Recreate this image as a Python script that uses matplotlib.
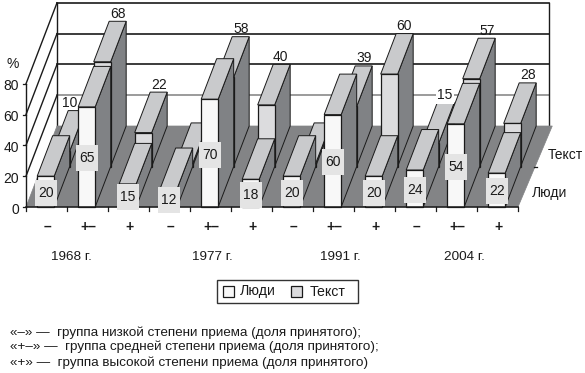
import matplotlib
matplotlib.use("Agg")
import matplotlib.pyplot as plt
from matplotlib.patches import Polygon, Rectangle

plt.rcParams['font.family'] = ['Liberation Sans', 'DejaVu Sans']

# ---- data ----
group_marks = ['–', '+–', '+', '–', '+–', '+', '–', '+–', '+', '–', '+–', '+']
years = ['1968 г.', '1977 г.', '1991 г.', '2004 г.']
series_names = ['Люди', 'Текст']
people = [20, 65, 15, 12, 70, 18, 20, 60, 20, 24, 54, 22]
text_vals = [10, 68, 22, 2, 58, 40, 2, 39, 60, 15, 57, 28]
text_labelled = [True, True, True, False, True, True, False, True, True, True, True, True]
y_ticks = [0, 20, 40, 60, 80]
footnotes = ['«–» —  группа низкой степени приема (доля принятого);',
             '«+–» —  группа средней степени приема (доля принятого);',
             '«+» —  группа высокой степени приема (доля принятого)']

# ---- layout ----
X0, Y0 = 26.0, 207.0      # front-left floor corner, px
CAT_W = 41.0
PX_PER_UNIT = 1.54
DX, DY = 31.0, -81.0      # full-depth offset, px
BAR_W = 17.0
people_label_y = [193, 158, 197, 200, 155, 195, 193, 162, 193, 190, 167, 191]
text_label_dx = [-7, 0, 0, 0, 0, -1, 0, 0, -1, -1, 0, 0]
year_x = [71, 212, 340, 464]

INK = '#1a1a1a'
SIDE = '#808285'
TOP = '#c9cacc'
FLOOR = '#838486'
F_PEOPLE = '#f8f8f8'
F_TEXT = '#dcdcde'
BOX = '#e4e4e4'


def proj(cat, depth, val):
    """Oblique projection of (category position, depth 0..1, value) to pixels."""
    return (X0 + cat * CAT_W + depth * DX, Y0 - val * PX_PER_UNIT + depth * DY)


fig = plt.figure(figsize=(5.85, 3.73), dpi=100)
ax = fig.add_axes([0, 0, 1, 1])
ax.set_xlim(0, 585)
ax.set_ylim(373, 0)
ax.axis('off')
N = len(people)


def poly(pts, fc, ec=INK, lw=0.7, z=2):
    ax.add_patch(Polygon(pts, closed=True, facecolor=fc, edgecolor=ec, linewidth=lw,
                         joinstyle='miter', zorder=z))


# walls
for v in y_ticks[1:]:
    c = '#8a8a8a' if v == 20 else INK
    ax.plot([proj(0, 1, v)[0], proj(N, 1, v)[0]], [proj(0, 1, v)[1]] * 2, color=c, lw=1.2, zorder=1)
    ax.plot([proj(0, 0, v)[0], proj(0, 1, v)[0]], [proj(0, 0, v)[1], proj(0, 1, v)[1]],
            color=INK, lw=1.0, zorder=1)
for cat in (0, N):
    ax.plot([proj(cat, 1, 0)[0], proj(cat, 1, 80)[0]], [proj(cat, 1, 0)[1], proj(cat, 1, 80)[1]],
            color=INK, lw=1.0, zorder=1)
# floor
poly([proj(0, 0, 0), proj(N, 0, 0), proj(N + 0.08, 1, 0), proj(0, 1, 0)], FLOOR, ec=FLOOR, lw=0.5, z=1.5)
ax.plot([proj(0, 0, 0)[0], proj(0, 0, 80)[0]], [proj(0, 0, 0)[1], proj(0, 0, 80)[1]], color=INK, lw=1.0, zorder=1.6)


def bar(cat, d0, d1, val, face):
    x0 = cat + 0.5 - 0.5 * BAR_W / CAT_W - 0.02
    x1 = x0 + BAR_W / CAT_W
    poly([proj(x1, d0, 0), proj(x1, d1, 0), proj(x1, d1, val), proj(x1, d0, val)], SIDE)
    poly([proj(x0, d0, val), proj(x1, d0, val), proj(x1, d1, val), proj(x0, d1, val)], TOP)
    poly([proj(x0, d0, 0), proj(x1, d0, 0), proj(x1, d0, val), proj(x0, d0, val)], face, lw=0.9)


for i, v in enumerate(text_vals):
    bar(i, 0.5, 1.0, v, F_TEXT)
for i, v in enumerate(people):
    bar(i, 0.0, 0.5, v, F_PEOPLE)

# front axis and ticks
ax.plot([proj(0, 0, 0)[0], proj(N, 0, 0)[0]], [Y0, Y0], color=INK, lw=1.1, zorder=3)
for i in range(N + 1):
    x = proj(i, 0, 0)[0]
    ax.plot([x, x], [Y0, Y0 + 3.5], color=INK, lw=0.9, zorder=3)
for v in y_ticks:
    px, py = proj(0, 0, v)
    ax.plot([px - 3, px], [py, py], color=INK, lw=0.9, zorder=3)
    ax.text(19, py + 2.5, str(v), ha='right', va='center', fontsize=10, color=INK)
ax.text(13, 64, '%', ha='center', va='center', fontsize=10, color=INK)

# depth tick and series names
px, py = proj(N, 0.5, 0)
ax.plot([px, px + 3], [py, py], color=INK, lw=0.9, zorder=3)
ax.text(548, 155, series_names[1], ha='left', va='center', fontsize=10, color=INK)
ax.text(532, 193, series_names[0], ha='left', va='center', fontsize=10, color=INK)

# value labels
for i, (v, ly) in enumerate(zip(people, people_label_y)):
    x = proj(i + 0.5, 0, 0)[0] - 0.8
    ax.add_patch(Rectangle((x - 11, ly - 13), 22, 26, facecolor=BOX, edgecolor='none', zorder=4))
    ax.text(x, ly, str(v), ha='center', va='center', fontsize=10, color=INK, zorder=5)
for i, v in enumerate(text_vals):
    if not text_labelled[i]:
        continue
    x1, y1 = proj(i + 0.5, 1.0, v)
    x1 += text_label_dx[i] - 0.8
    kw = {}
    if v == 15:
        kw['bbox'] = dict(facecolor='white', edgecolor='none', pad=1)
    ax.text(x1, y1 - 7.5, str(v), ha='center', va='center', fontsize=10, color=INK, zorder=5, **kw)

# category and year labels
for i, m in enumerate(group_marks):
    ax.text(proj(i + 0.5, 0, 0)[0] + 1, 227, m, ha='center', va='center', fontsize=10,
            fontweight='bold', color=INK)
for x, y in zip(year_x, years):
    ax.text(x, 257, y, ha='center', va='center', fontsize=9.7, color=INK)

# legend
ax.add_patch(Rectangle((217, 280), 141, 23, facecolor='white', edgecolor='#333333', linewidth=1.0, zorder=3))
ax.add_patch(Rectangle((223, 286), 10.5, 11, facecolor=F_PEOPLE, edgecolor=INK, linewidth=0.9, zorder=4))
ax.text(240, 291.5, series_names[0], ha='left', va='center', fontsize=10.2, color=INK, zorder=4)
ax.add_patch(Rectangle((291, 286), 10.5, 11, facecolor=F_TEXT, edgecolor=INK, linewidth=0.9, zorder=4))
ax.text(310, 291.5, series_names[1], ha='left', va='center', fontsize=10.2, color=INK, zorder=4)

# footnotes
for y, s in zip([333, 347, 363], footnotes):
    ax.text(10, y, s, ha='left', va='center', fontsize=9.7, color=INK)

fig.savefig('out.png', dpi=100)
